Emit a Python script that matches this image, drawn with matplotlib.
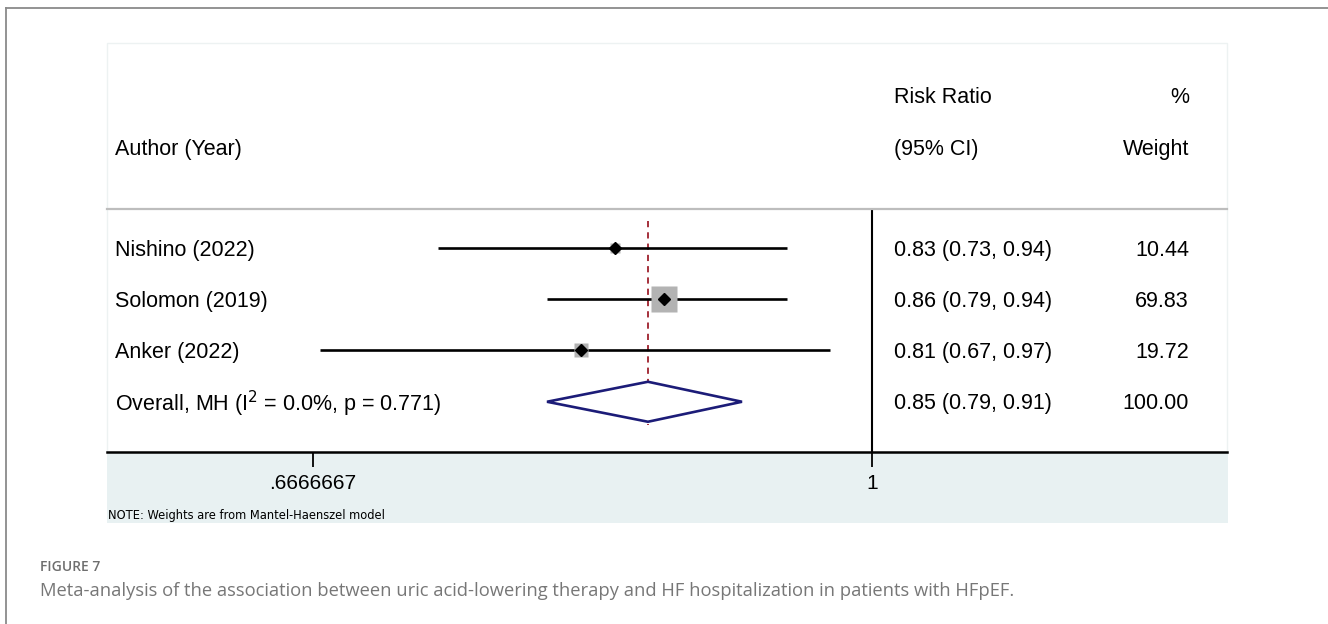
import numpy as np
import matplotlib
matplotlib.use("Agg")
import matplotlib.pyplot as plt
from matplotlib.patches import Rectangle, Polygon
from matplotlib.lines import Line2D
from matplotlib import font_manager

# Study data
studies = ["Nishino (2022)", "Solomon (2019)", "Anker (2022)"]
rr = [0.83, 0.86, 0.81]
ci_low = [0.73, 0.79, 0.67]
ci_high = [0.94, 0.94, 0.97]
weights = [10.44, 69.83, 19.72]

# Pooled estimate
overall_label = r"Overall, MH (I$^{2}$ = 0.0%, p = 0.771)"
overall_rr = 0.85
overall_low = 0.79
overall_high = 0.91
overall_weight = 100.00

tick_values = [0.6666667, 1]
tick_labels = [".6666667", "1"]

W, H = 1328, 624
fig = plt.figure(figsize=(W / 100, H / 100), dpi=100)
fig.patch.set_facecolor("white")

def fx(px):
    return px / W

def fy(py):
    return 1 - py / H

sans = "Liberation Sans"

# look for a narrow, regular-weight sans for the footnote
def find_narrow():
    fonts = [f for f in font_manager.fontManager.ttflist
             if f.style == "normal" and f.weight in (400, "normal", "regular")]
    for f in fonts:
        if f.name == "Liberation Sans Narrow":
            return font_manager.FontProperties(fname=f.fname), 10.0
    for f in fonts:
        if ("Narrow" in f.name or "Condensed" in f.name or
                str(f.stretch) in ("condensed", "semi-condensed", "extra-condensed")):
            return font_manager.FontProperties(fname=f.fname), 9.2
    return None, 8.6

narrow_fp, note_size = find_narrow()

# outer frame (top and left edges)
fig.add_artist(Line2D([fx(6), 1], [fy(8), fy(8)], color="#8a8a8a", lw=1.3))
fig.add_artist(Line2D([fx(6), fx(6)], [fy(8), 0], color="#8a8a8a", lw=1.3))

# plot panel and shaded axis band
fig.add_artist(Rectangle((fx(107), fy(452)), fx(1227 - 107), (452 - 43) / H,
                         facecolor="white", edgecolor="#edf2f2", lw=1.0, zorder=0))
fig.add_artist(Rectangle((fx(107), fy(523)), fx(1228 - 107), (523 - 452) / H,
                         facecolor="#e8f1f2", edgecolor="none", zorder=0))

# forest axes: log scale, 1 at x=872px, 2/3 at x=313px
k = (872 - 313) / np.log(1.5)
ax = fig.add_axes([fx(107), fy(452), fx(1227 - 107), (452 - 209) / H])
ax.set_xscale("log")
ax.set_xlim(np.exp(-(872 - 107) / k), np.exp((1227 - 872) / k))
ax.set_ylim(3.98, -0.76)
ax.patch.set_alpha(0)

for s in ["left", "right"]:
    ax.spines[s].set_visible(False)
ax.spines["top"].set_color("#bdbdbd")
ax.spines["top"].set_linewidth(1.6)
ax.spines["bottom"].set_color("black")
ax.spines["bottom"].set_linewidth(1.8)
ax.set_yticks([])
ax.xaxis.set_minor_locator(matplotlib.ticker.NullLocator())
ax.set_xticks(tick_values)
ax.set_xticklabels(tick_labels, fontsize=15, family=sans)
ax.tick_params(axis="x", direction="out", length=11, width=1.3, pad=5, colors="black")

# null line
ax.axvline(1, color="black", lw=1.5, zorder=2)
# pooled estimate reference line
ax.plot([overall_rr, overall_rr], [-0.52, 3.45], color="#a5303b", lw=1.4,
        ls=(0, (3.2, 2.6)), zorder=2)

rows = np.arange(len(studies))
ax.hlines(rows, ci_low, ci_high, color="black", lw=1.9, zorder=3)
max_w = max(weights)
for i, (r, w) in enumerate(zip(rr, weights)):
    ax.plot(r, i, marker="s", ms=18.7 * np.sqrt(w / max_w), color="#b3b3b3",
            mec="none", zorder=3)
    ax.plot(r, i, marker="D", ms=5.8, color="black", zorder=4)

# pooled diamond
yo = len(studies)
h = 0.39
ax.add_patch(Polygon([[overall_low, yo], [overall_rr, yo - h], [overall_high, yo],
                      [overall_rr, yo + h]], closed=True, facecolor="white",
                     edgecolor="#1c1c78", lw=1.9, zorder=3))

# text columns
tr = ax.get_yaxis_transform()
fs = 15.5
dy = 0.04
labels = studies + [overall_label]
ci_text = ["%.2f (%.2f, %.2f)" % v for v in zip(rr, ci_low, ci_high)]
ci_text.append("%.2f (%.2f, %.2f)" % (overall_rr, overall_low, overall_high))
w_text = ["%.2f" % w for w in weights] + ["%.2f" % overall_weight]
for i in range(len(labels)):
    ax.text(0.0071, i + dy, labels[i], transform=tr, ha="left", va="center",
            fontsize=fs, family=sans, clip_on=False)
    ax.text(0.7027, i + dy, ci_text[i], transform=tr, ha="left", va="center",
            fontsize=fs, family=sans, clip_on=False)
    ax.text(0.966, i + dy, w_text[i], transform=tr, ha="right", va="center",
            fontsize=fs, family=sans, clip_on=False)

# column headers
ax.text(0.0071, -1.97 + dy, "Author (Year)", transform=tr, ha="left", va="center",
        fontsize=fs, family=sans, clip_on=False)
ax.text(0.7027, -2.98 + dy, "Risk Ratio", transform=tr, ha="left", va="center",
        fontsize=fs, family=sans, clip_on=False)
ax.text(0.7027, -1.97 + dy, "(95% CI)", transform=tr, ha="left", va="center",
        fontsize=fs, family=sans, clip_on=False)
ax.text(0.966, -2.98 + dy, "%", transform=tr, ha="right", va="center",
        fontsize=fs, family=sans, clip_on=False)
ax.text(0.966, -1.97 + dy, "Weight", transform=tr, ha="right", va="center",
        fontsize=fs, family=sans, clip_on=False)

note = "NOTE: Weights are from Mantel-Haenszel model"
if narrow_fp is not None:
    narrow_fp.set_size(note_size)
    fig.text(fx(108), fy(515), note, ha="left", va="center", fontproperties=narrow_fp)
else:
    fig.text(fx(108), fy(515), note, ha="left", va="center", fontsize=note_size,
             family=sans)

# caption
fig.text(fx(40), fy(567), "FIGURE 7", ha="left", va="center", fontsize=10,
         family="Open Sans", weight="semibold", color="#6e6e6e")
fig.text(fx(40), fy(591),
         "Meta-analysis of the association between uric acid-lowering therapy "
         "and HF hospitalization in patients with HFpEF.",
         ha="left", va="center", fontsize=13.2, family="Open Sans", color="#777777")

fig.savefig("out.png", dpi=100)
